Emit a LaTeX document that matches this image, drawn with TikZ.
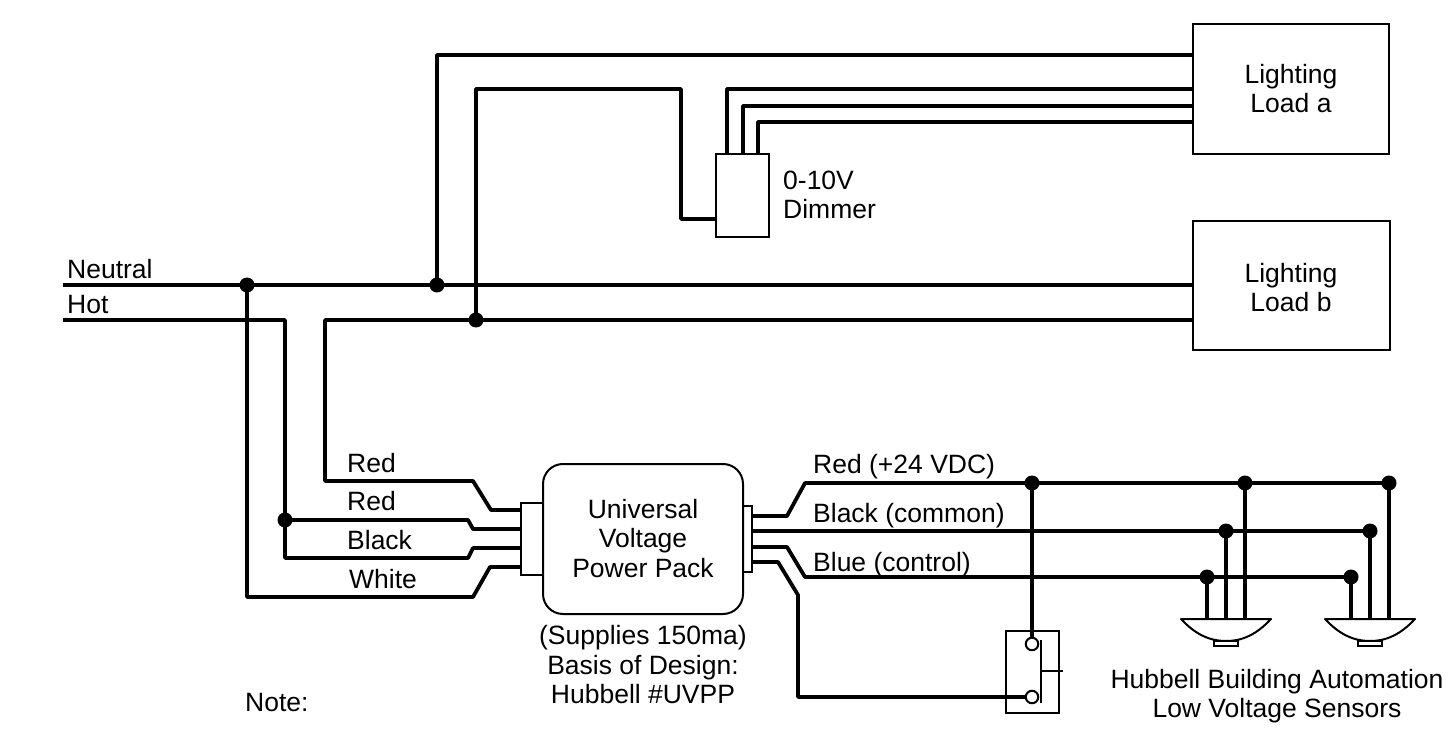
\documentclass[tikz,border=0pt]{standalone}
\usepackage{fontspec}
\setmainfont{Liberation Sans}
\begin{document}
\begin{tikzpicture}[x=1pt,y=-1pt,
  wire/.style={line width=3.8pt,line join=round,line cap=butt},
  thin box/.style={draw,line width=2pt,inner sep=0pt,outer sep=0pt,anchor=north west},
  dot/.style={circle,fill=black,inner sep=0pt,minimum size=15pt},
  term/.style={circle,draw,line width=2pt,fill=white,inner sep=0pt,minimum size=12.5pt},
  lab/.style={font=\fontsize{26.5}{29.5}\selectfont,inner sep=0pt,align=center},
  llab/.style={lab,anchor=base west},
  thinl/.style={line width=2pt}]
\useasboundingbox (0,0) rectangle (1452,738);
% boxes
\node[thin box,minimum width=196pt,minimum height=130pt] (loadA) at (1193,24) {};
\node[thin box,minimum width=197pt,minimum height=129pt] (loadB) at (1193,221) {};
\node[thin box,minimum width=53pt,minimum height=83pt] (dim) at (716,154) {};
\node[thin box,minimum width=22pt,minimum height=72pt] (lconn) at (521,503) {};
\node[thin box,minimum width=9pt,minimum height=66pt] (rconn) at (743,506) {};
\node[thin box,minimum width=200pt,minimum height=150pt,rounded corners=20pt,fill=white] (pack) at (543,464) {};
\node[thin box,minimum width=53pt,minimum height=82pt] (sw) at (1006,631) {};
% labels
\node[lab] (tA) at (1291,88.5) {Lighting\\Load a};
\node[lab] (tB) at (1291,287.5) {Lighting\\Load b};
\node[lab] (tP) at (643,538.5) {Universal\\Voltage\\Power Pack};
\node[lab] (tS) at (643,665) {(Supplies 150ma)\\Basis of Design:\\Hubbell \#UVPP};
\node[lab] (tH) at (1277,696) {Hubbell Building Automation\\Low Voltage Sensors};
\node[lab,align=left,anchor=north west] (tD) at (783,170.5) {0-10V\\Dimmer};
\node[llab] (t1) at (67,279) {Neutral};
\node[llab] (t2) at (67,313) {Hot};
\node[llab] (t3) at (347,472) {Red};
\node[llab] (t4) at (347,510) {Red};
\node[llab] (t5) at (347,549) {Black};
\node[llab] (t6) at (349,588) {White};
\node[llab] (t7) at (813,473) {Red (+24 VDC)};
\node[llab] (t8) at (813,522) {Black (common)};
\node[llab] (t9) at (813,571) {Blue (control)};
\node[llab] (t10) at (245,711) {Note:};
% junctions
\node[dot] (jW) at (247,285) {};
\node[dot] (jN) at (437,285) {};
\node[dot] (jH) at (476,320) {};
\node[dot] (jB) at (285,520) {};
\node[dot] (r0) at (1032,483) {};
\node[dot] (r1) at (1245,483) {};
\node[dot] (r2) at (1389,483) {};
\node[dot] (b1) at (1226,531) {};
\node[dot] (b2) at (1370,531) {};
\node[dot] (c1) at (1207,577) {};
\node[dot] (c2) at (1351,577) {};
% free ends
\coordinate (nStart) at (63,285);
\coordinate (hStart) at (63,320);
\coordinate (hA) at (285,320);
\coordinate (hB) at (325,320);
% mains
\draw[wire] (nStart) -- (jW.center) -- (jN.center) -- (jN -| loadB.west);
\draw[wire] (jH.center -| loadB.west) -- (jH.center) -- (hB) -- (325,481) -- (473,481) -- (491,510) -- (521,510);
\draw[wire] (hStart) -- (hA) -- (jB.center) -- (285,558) -- (468,558) -- (473,548) -- (521,548);
\draw[wire] (jN.center) -- (437,55) -- (1193,55);
\draw[wire] (jH.center) -- (476,89) -- (681,89) -- (681,219) -- (716,219);
\draw[wire] (727,154) -- (727,89) -- (1193,89);
\draw[wire] (743,154) -- (743,106) -- (1193,106);
\draw[wire] (758,154) -- (758,122) -- (1193,122);
% primary
\draw[wire] (jB.center) -- (468,520) -- (473,529) -- (521,529);
\draw[wire] (jW.center) -- (247,597) -- (473,597) -- (490,567) -- (521,567);
% secondary
\draw[wire] (752,516) -- (787,516) -- (805,483) -- (r0.center) -- (r1.center) -- (r2.center);
\draw[wire] (752,531) -- (b1.center) -- (b2.center);
\draw[wire] (752,547) -- (787,547) -- (805,577) -- (c1.center) -- (c2.center);
\draw[wire] (752,562) -- (778,562) -- (798,595) -- (798,697) -- (1026,697);
\draw[wire] (r0.center) -- (1032,638);
% sensors
\foreach \n/\x/\a/\b/\c in {s1/1181/c1/b1/r1,s2/1325/c2/b2/r2}{
  \draw[wire] (\a.center) -- (\a |- 0,619);
  \draw[wire] (\b.center) -- (\b |- 0,619);
  \draw[wire] (\c.center) -- (\c |- 0,619);
  \draw[thinl,line join=round] (\x,619) -- (\x+90,619) .. controls (\x+76,634) and (\x+62,641) .. (\x+45,641) .. controls (\x+28,641) and (\x+14,634) .. (\x,619) -- cycle;
  \draw[thinl] (\x+33,641) rectangle (\x+57,646);
}
% switch
\node[term] (k1) at (1032,644) {};
\node[term] (k2) at (1032,697) {};
\coordinate (bar) at (1041,671);
\draw[thinl] (1041,640) -- (1041,703);
\draw[thinl] (bar) -- (1063,671);
\end{tikzpicture}
\end{document}
